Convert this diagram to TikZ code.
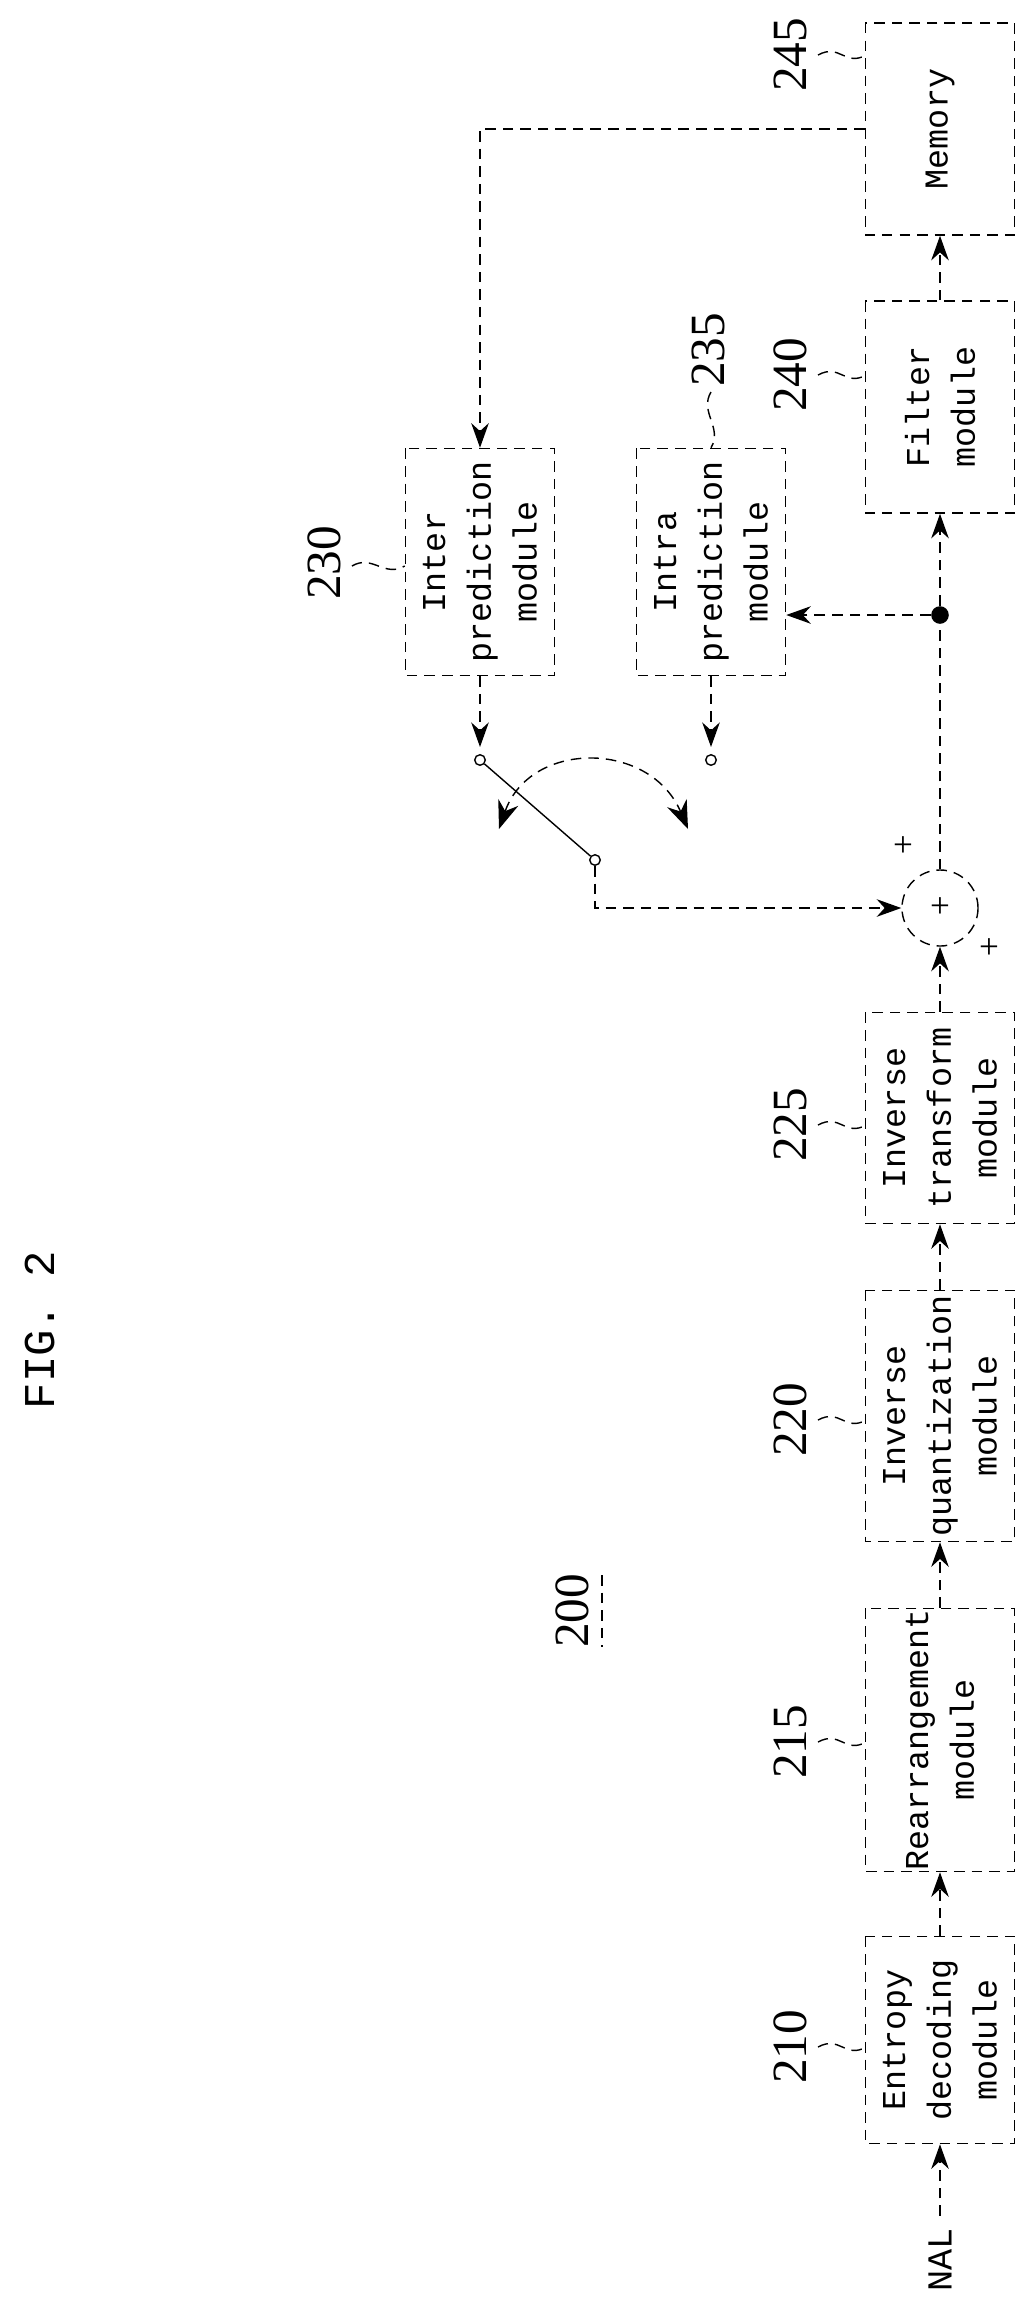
\documentclass[tikz,border=0pt]{standalone}
\usepackage{fontspec}
\setmainfont{Liberation Serif}
\newfontfamily\boxfont{Liberation Mono}
\usetikzlibrary{arrows.meta}

\begin{document}
\begin{tikzpicture}[
    x=0.01cm, y=-0.01cm,
    box/.style={
        draw, densely dashed, rectangle, rotate=90, inner sep=0pt, align=center,
        minimum height=1.49cm, font=\boxfont\fontsize{9.5}{13}\selectfont
    },
    add/.style={
        draw, densely dashed, circle, inner sep=0pt, minimum size=.76cm
    },
    dot/.style={
        fill, circle, inner sep=0pt, minimum size=5pt
    },
    port/.style={
        draw, circle, inner sep=0pt, minimum size=3pt
    },
    lab/.style={
        rotate=90, font=\fontsize{14}{14}\selectfont
    },
    arr/.style={
        densely dashed, -{Stealth[length=7pt,width=5pt]}
    }
]
    \useasboundingbox (0,0) rectangle (1025,2314);

    \node[box, minimum width=2.07cm] (ent) at (940,2040) {Entropy\\decoding\\module};
    \node[box, minimum width=2.63cm] (rea) at (940,1740) {Rearrangement\\module};
    \node[box, minimum width=2.51cm] (qua) at (940,1416) {Inverse\\quantization\\module};
    \node[box, minimum width=2.11cm] (tra) at (940,1118) {Inverse\\transform\\module};
    \node[box, minimum width=2.12cm] (fil) at (940,407) {Filter\\module};
    \node[box, minimum width=2.12cm] (mem) at (940,129) {Memory};
    \node[box, minimum width=2.27cm] (inter) at (480,562) {Inter\\prediction\\module};
    \node[box, minimum width=2.27cm] (intra) at (711,562) {Intra\\prediction\\module};

    \node[add] (sum) at (940,908) {+};
    \node at (903,847) {+};
    \node at (989,949) {+};
    \node[dot] (tap) at (940,615) {};
    \node[port] (p1) at (480,760) {};
    \node[port] (p2) at (711,760) {};
    \node[port] (p3) at (595,860) {};
    \coordinate (sw1) at (499,829);
    \coordinate (sw2) at (688,829);

    \node[rotate=90, font=\boxfont] (nal) at (940,2260) {NAL};
    \node[lab, font=\boxfont\fontsize{12.5}{14}\selectfont] (fig) at (40,1330) {FIG. 2};
    \node[lab] (n200) at (572,1611) {200};
    \draw[densely dashed] (602,1575) -- (602,1647);

    % reference numerals
    \foreach \num/\ypos in {210/2047, 215/1742, 220/1420, 225/1125, 240/375, 245/55}{
        \node[lab] at (790,\ypos) {\num};
        \draw[densely dashed] (818,\ypos) .. controls (840,\ypos-12) and (845,\ypos+12) .. (866,\ypos);
    }
    \node[lab] at (324,563) {230};
    \draw[densely dashed] (352,566) .. controls (372,554) and (385,578) .. (inter.north |- 0,566);
    \node[lab] at (708,350) {235};
    \draw[densely dashed] (711,392) .. controls (699,412) and (723,428) .. (intra.east);

    \draw[arr] (nal) -- (ent);
    \draw[arr] (ent) -- (rea);
    \draw[arr] (rea) -- (qua);
    \draw[arr] (qua) -- (tra);
    \draw[arr] (tra) -- (sum);
    \draw[densely dashed] (sum) -- (tap);
    \draw[arr] (tap) -- (fil);
    \draw[arr] (fil) -- (mem);
    \draw[arr] (tap) -- (tap -| intra.south);
    \draw[arr] (mem.north) -| (inter.east);
    \draw[arr, shorten >=2pt] (inter.west) -- (p1);
    \draw[arr, shorten >=2pt] (intra.west) -- (p2);
    \draw (p1) -- (p3);
    \draw[arr] (p3) |- (sum);
    \draw[densely dashed, {Stealth[length=8pt,width=6pt]}-{Stealth[length=8pt,width=6pt]}] (sw1) .. controls (530,740) and (650,740) .. (sw2);
\end{tikzpicture}
\end{document}
